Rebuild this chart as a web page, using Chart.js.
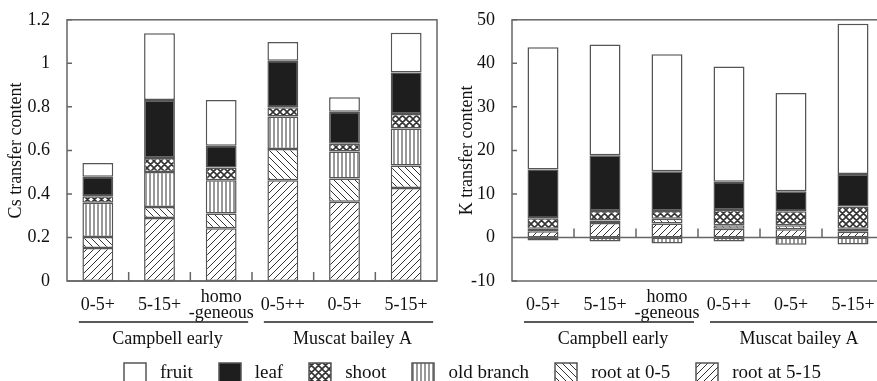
<!DOCTYPE html>
<html>
<head>
<meta charset="utf-8">
<script src="https://cdn.jsdelivr.net/npm/chart.js@4.4.0/dist/chart.umd.min.js"></script>
<style>
body{margin:0;width:877px;height:381px;overflow:hidden;background:#fff;position:relative;font-family:'Liberation Serif',serif;}
#cs-chart{position:absolute;left:0;top:0;}
#k-chart{position:absolute;left:440px;top:0;}
#legend{position:absolute;left:123px;top:361px;display:flex;align-items:center;font-size:19px;color:#111;white-space:nowrap;}
#legend .item{display:flex;align-items:center;margin-right:25px;}
#legend canvas{margin-right:13px;}
</style>
</head>
<body>
<canvas id="cs-chart" width="440" height="381"></canvas>
<canvas id="k-chart" width="450" height="381"></canvas>
<div id="legend"></div>
<script>
//=========================== DATA ================================//
const categories = ['0-5+', '5-15+', ['homo', '-geneous'], '0-5++', '0-5+', '5-15+'];
const groupNames = ['Campbell early', 'Muscat bailey A'];
const groupSpans = [[0, 2], [3, 5]];
const partNames = ['fruit', 'leaf', 'shoot', 'old branch', 'root at 0-5', 'root at 5-15'];

// Cs transfer content (left)
const csFruit     = [0.063, 0.306, 0.211, 0.086, 0.067, 0.183];
const csLeaf      = [0.090, 0.267, 0.099, 0.214, 0.147, 0.191];
const csShoot     = [0.030, 0.064, 0.059, 0.042, 0.035, 0.066];
const csOldBranch = [0.157, 0.161, 0.153, 0.150, 0.124, 0.170];
const csRoot05    = [0.050, 0.051, 0.068, 0.143, 0.107, 0.104];
const csRoot515   = [0.152, 0.289, 0.242, 0.463, 0.364, 0.427];

// K transfer content (right)
const kFruit     = [28.1, 25.4, 26.9, 26.5, 22.6, 34.5];
const kLeaf      = [11.2, 12.8, 9.1, 6.5, 4.6, 7.5];
const kShoot     = [2.4, 2.2, 1.8, 3.5, 3.2, 5.1];
const kOldBranch = [-0.7, -0.9, -1.4, -0.9, -1.7, -1.6];
const kRoot05    = [0.6, 0.6, 1.1, 0.8, 0.9, 0.7];
const kRoot515   = [1.4, 3.3, 3.2, 2.0, 1.9, 1.3];

//=========================== PATTERNS ================================//
function makePattern(kind){
    const c = document.createElement('canvas');
    const s = kind === 'vert' ? 4 : 7;
    c.width = s; c.height = s;
    const g = c.getContext('2d');
    g.fillStyle = '#fff';
    g.fillRect(0, 0, s, s);
    g.strokeStyle = '#333';
    g.lineWidth = kind === 'cross' ? 1.6 : 1;
    g.beginPath();
    if(kind === 'vert'){
        g.moveTo(2, 0); g.lineTo(2, s);
    }
    if(kind === 'fwd' || kind === 'cross'){
        g.moveTo(0, s); g.lineTo(s, 0);
        g.moveTo(-1, 1); g.lineTo(1, -1);
        g.moveTo(s - 1, s + 1); g.lineTo(s + 1, s - 1);
    }
    if(kind === 'back' || kind === 'cross'){
        g.moveTo(0, 0); g.lineTo(s, s);
        g.moveTo(s - 1, -1); g.lineTo(s + 1, 1);
        g.moveTo(-1, s - 1); g.lineTo(1, s + 1);
    }
    g.stroke();
    return g.createPattern(c, 'repeat');
}
const fills = {
    'fruit': '#ffffff',
    'leaf': '#1e1e1e',
    'shoot': makePattern('cross'),
    'old branch': makePattern('vert'),
    'root at 0-5': makePattern('back'),
    'root at 5-15': makePattern('fwd')
};

//=========================== PLUGIN: frame, ticks, groups ================================//
const framePlugin = {
    id: 'frame',
    afterDraw(chart){
        const {ctx, chartArea: a, scales: {x, y}} = chart;
        ctx.save();
        ctx.strokeStyle = '#666';
        ctx.lineWidth = 1.5;
        ctx.strokeRect(a.left, a.top, a.right - a.left, a.bottom - a.top);
        const y0 = y.getPixelForValue(0);
        ctx.beginPath();
        ctx.moveTo(a.left, y0); ctx.lineTo(a.right, y0);
        y.ticks.forEach(t => {
            const p = y.getPixelForValue(t.value);
            ctx.moveTo(a.left, p); ctx.lineTo(a.left + 5, p);
        });
        for(let i = 1; i < categories.length; i++){
            const px = (x.getPixelForValue(i - 1) + x.getPixelForValue(i)) / 2;
            ctx.moveTo(px, y0); ctx.lineTo(px, y0 - 9);
        }
        ctx.stroke();

        ctx.strokeStyle = '#222';
        ctx.lineWidth = 1.3;
        ctx.fillStyle = '#111';
        ctx.font = '18px "Liberation Serif"';
        ctx.textAlign = 'center';
        ctx.textBaseline = 'middle';
        groupSpans.forEach((span, i) => {
            const x1 = x.getPixelForValue(span[0]) - 19;
            const x2 = x.getPixelForValue(span[1]) + 27;
            ctx.beginPath();
            ctx.moveTo(x1, 322); ctx.lineTo(x2, 322);
            ctx.stroke();
            ctx.fillText(groupNames[i], (x1 + x2) / 2 + 4, 339);
        });
        ctx.restore();
    }
};

//=========================== CHARTS ================================//
function createChart(id, series, yMin, yMax, yStep, title, yWidth, padTop, padRight, titlePad){
    const order = ['root at 5-15', 'root at 0-5', 'old branch', 'shoot', 'leaf', 'fruit'];
    const ctx = document.getElementById(id).getContext('2d');
    return new Chart(ctx, {
        type: 'bar',
        data: {
            labels: categories,
            datasets: order.map(name => ({
                label: name,
                data: series[name],
                backgroundColor: fills[name],
                borderColor: '#555',
                borderWidth: 1.5,
                borderSkipped: false,
                barPercentage: 0.5,
                categoryPercentage: 1
            }))
        },
        options: {
            responsive: false,
            animation: false,
            layout: {padding: {top: padTop, right: padRight, left: 0, bottom: 0}},
            plugins: {legend: {display: false}, tooltip: {enabled: false}},
            scales: {
                x: {
                    stacked: true,
                    grid: {display: false},
                    border: {display: false},
                    ticks: {
                        color: '#111',
                        font: {family: 'Liberation Serif', size: 18, lineHeight: 0.9},
                        padding: 8,
                        maxRotation: 0,
                        autoSkip: false,
                        crossAlign: 'center'
                    },
                    afterFit: s => { s.height = 100; }
                },
                y: {
                    stacked: true,
                    min: yMin,
                    max: yMax,
                    grid: {display: false},
                    border: {display: false},
                    ticks: {
                        stepSize: yStep,
                        color: '#111',
                        font: {family: 'Liberation Serif', size: 18},
                        padding: 9,
                        callback: v => String(Number(v.toFixed(1)))
                    },
                    title: {
                        display: true,
                        text: title,
                        color: '#111',
                        font: {family: 'Liberation Serif', size: 18},
                        padding: {top: titlePad, bottom: 0}
                    },
                    afterFit: s => { s.width = yWidth; }
                }
            }
        },
        plugins: [framePlugin]
    });
}

createChart('cs-chart', {
    'fruit': csFruit, 'leaf': csLeaf, 'shoot': csShoot,
    'old branch': csOldBranch, 'root at 0-5': csRoot05, 'root at 5-15': csRoot515
}, 0, 1.2, 0.2, 'Cs transfer content', 67, 15, 3, 5);

createChart('k-chart', {
    'fruit': kFruit, 'leaf': kLeaf, 'shoot': kShoot,
    'old branch': kOldBranch, 'root at 0-5': kRoot05, 'root at 5-15': kRoot515
}, -10, 50, 10, 'K transfer content', 72, 17, 6, 16);

//=========================== LEGEND ================================//
const legend = document.getElementById('legend');
partNames.forEach(name => {
    const item = document.createElement('div');
    item.className = 'item';
    const sw = document.createElement('canvas');
    sw.width = 24; sw.height = 21;
    const g = sw.getContext('2d');
    g.fillStyle = fills[name];
    g.fillRect(1, 1, 22, 19);
    g.strokeStyle = '#555';
    g.lineWidth = 1.5;
    g.strokeRect(1, 1, 22, 19);
    item.appendChild(sw);
    item.append(name);
    legend.appendChild(item);
});
</script>
</body>
</html>
